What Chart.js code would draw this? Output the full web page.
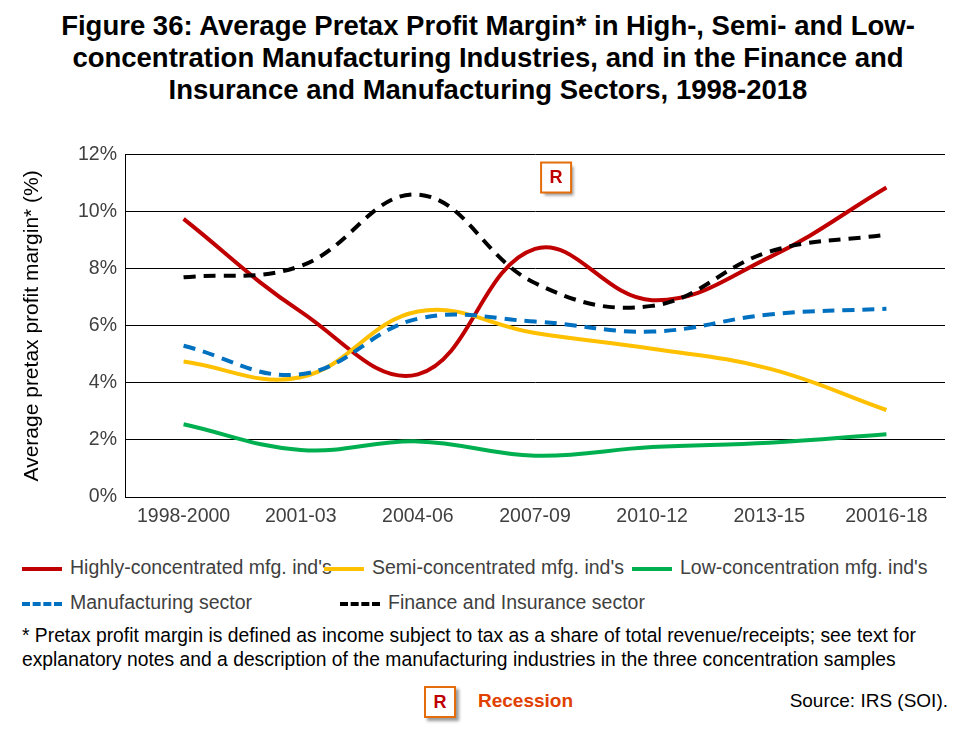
<!DOCTYPE html>
<html>
<head>
<meta charset="utf-8">
<script src="https://cdn.jsdelivr.net/npm/chart.js@4"></script>
<style>
    body { margin: 0; width: 976px; height: 733px; background: #fff; font-family: "Liberation Sans", Arial, sans-serif; position: relative; overflow: hidden; }
    .title { position: absolute; top: 10px; left: 0; width: 976px; text-align: center; font-weight: bold; font-size: 27.5px; line-height: 32px; color: #000; }
    .wrap { position: absolute; top: 135px; left: 0; width: 976px; height: 402px; }
    .lg { position: absolute; font-size: 19.5px; color: #404040; white-space: nowrap; }
    .sw { position: absolute; width: 40px; height: 0; }
    .note { position: absolute; left: 22px; top: 624px; font-size: 19.3px; line-height: 24px; color: #000; white-space: nowrap; }
    .rbox { position: absolute; width: 28px; height: 28px; border: 2px solid #e46c0a; color: #c00000; font-weight: bold; font-size: 18px; text-align: center; line-height: 28px; box-shadow: 3px 3px 3px #999; background: #fff; }
</style>
</head>
<body>
<div class="title">Figure 36: Average Pretax Profit Margin* in High-, Semi- and Low-<br>concentration Manufacturing Industries, and in the Finance and<br>Insurance and Manufacturing Sectors, 1998-2018</div>
<div class="wrap"><canvas id="c"></canvas></div>

<div class="sw" style="left:22px;top:567px;border-top:4px solid #c00000"></div>
<div class="lg" style="left:70px;top:556px">Highly-concentrated mfg. ind's</div>
<div class="sw" style="left:324px;top:567px;border-top:4px solid #ffc000"></div>
<div class="lg" style="left:372px;top:556px">Semi-concentrated mfg. ind's</div>
<div class="sw" style="left:632px;top:567px;border-top:4px solid #00b050"></div>
<div class="lg" style="left:680px;top:556px">Low-concentration mfg. ind's</div>
<div class="sw" style="left:22px;top:602px;border-top:4px dashed #0070c0"></div>
<div class="lg" style="left:70px;top:591px">Manufacturing sector</div>
<div class="sw" style="left:340px;top:602px;border-top:4px dashed #000"></div>
<div class="lg" style="left:388px;top:591px">Finance and Insurance sector</div>

<div class="note">* Pretax profit margin is defined as income subject to tax as a share of total revenue/receipts; see text for<br>explanatory notes and a description of the manufacturing industries in the three concentration samples</div>
<div class="rbox" style="left:424px;top:686px">R</div>
<div style="position:absolute;left:478px;top:690px;font-size:19px;font-weight:bold;color:#e04000">Recession</div>
<div style="position:absolute;right:28px;top:690px;font-size:19px;color:#000">Source: IRS (SOI).</div>

<script>
const PERIODS = ['1998-2000', '2001-03', '2004-06', '2007-09', '2010-12', '2013-15', '20016-18'];
const HIGH    = [9.75, 6.5, 4.3, 8.7, 6.9, 8.4, 10.85];
const SEMI    = [4.75, 4.2, 6.5, 5.75, 5.2, 4.5, 3.05];
const LOW     = [2.55, 1.65, 1.95, 1.45, 1.75, 1.9, 2.2];
const MFG     = [5.3, 4.3, 6.25, 6.15, 5.8, 6.4, 6.6];
const FIN     = [7.7, 8.1, 10.6, 7.5, 6.7, 8.6, 9.2];
const RECESSION_AT = 3.18;   // category index position of the "R" marker

const recessionMark = {
    id: 'recessionMark',
    afterDraw(chart) {
        const { ctx, scales: { x, y } } = chart;
        const cx = x.getPixelForValue(RECESSION_AT);
        const cy = y.getPixelForValue(11.2);
        ctx.save();
        ctx.shadowColor = 'rgba(0,0,0,0.4)';
        ctx.shadowOffsetX = 3; ctx.shadowOffsetY = 3; ctx.shadowBlur = 3;
        ctx.fillStyle = '#fff';
        ctx.fillRect(cx - 15, cy - 15, 30, 30);
        ctx.shadowColor = 'transparent';
        ctx.strokeStyle = '#e46c0a'; ctx.lineWidth = 2;
        ctx.strokeRect(cx - 15, cy - 15, 30, 30);
        ctx.fillStyle = '#c00000';
        ctx.font = 'bold 18px "Liberation Sans", Arial';
        ctx.textAlign = 'center'; ctx.textBaseline = 'middle';
        ctx.fillText('R', cx, cy + 1);
        ctx.restore();
    },
};

const line = (data, color, dash) => ({
    data, borderColor: color, borderWidth: 4, borderDash: dash || [],
    pointRadius: 0, tension: 0.4, fill: false,
});

new Chart(document.getElementById('c'), {
    type: 'line',
    data: {
        labels: PERIODS,
        datasets: [
            line(MFG, '#0070c0', [12, 8]),
            line(FIN, '#000000', [12, 8]),
            line(LOW, '#00b050'),
            line(SEMI, '#ffc000'),
            line(HIGH, '#c00000'),
        ],
    },
    options: {
        responsive: true, maintainAspectRatio: false, animation: false,
        layout: { padding: { top: 13, right: 31, left: 20, bottom: 0 } },
        plugins: { legend: { display: false }, tooltip: { enabled: false } },
        scales: {
            x: {
                offset: true,
                grid: { display: false, drawTicks: false },
                border: { color: '#000', width: 1 },
                ticks: { color: '#404040', font: { size: 19.5, family: '"Liberation Sans", Arial' }, padding: 8, maxRotation: 0 },
                afterFit: s => { s.height = 40; },
            },
            y: {
                min: 0, max: 12,
                grid: { color: '#000', drawTicks: false, lineWidth: 1 },
                border: { color: '#000', width: 1 },
                ticks: { stepSize: 2, color: '#404040', padding: 8, font: { size: 19.5, family: '"Liberation Sans", Arial' }, callback: v => v + '%' },
                title: { display: true, text: 'Average pretax profit margin* (%)', color: '#000', font: { size: 21, family: '"Liberation Sans", Arial' }, padding: 0 },
                afterFit: s => { s.width = 105; },
            },
        },
    },
    plugins: [recessionMark],
});
</script>
</body>
</html>
